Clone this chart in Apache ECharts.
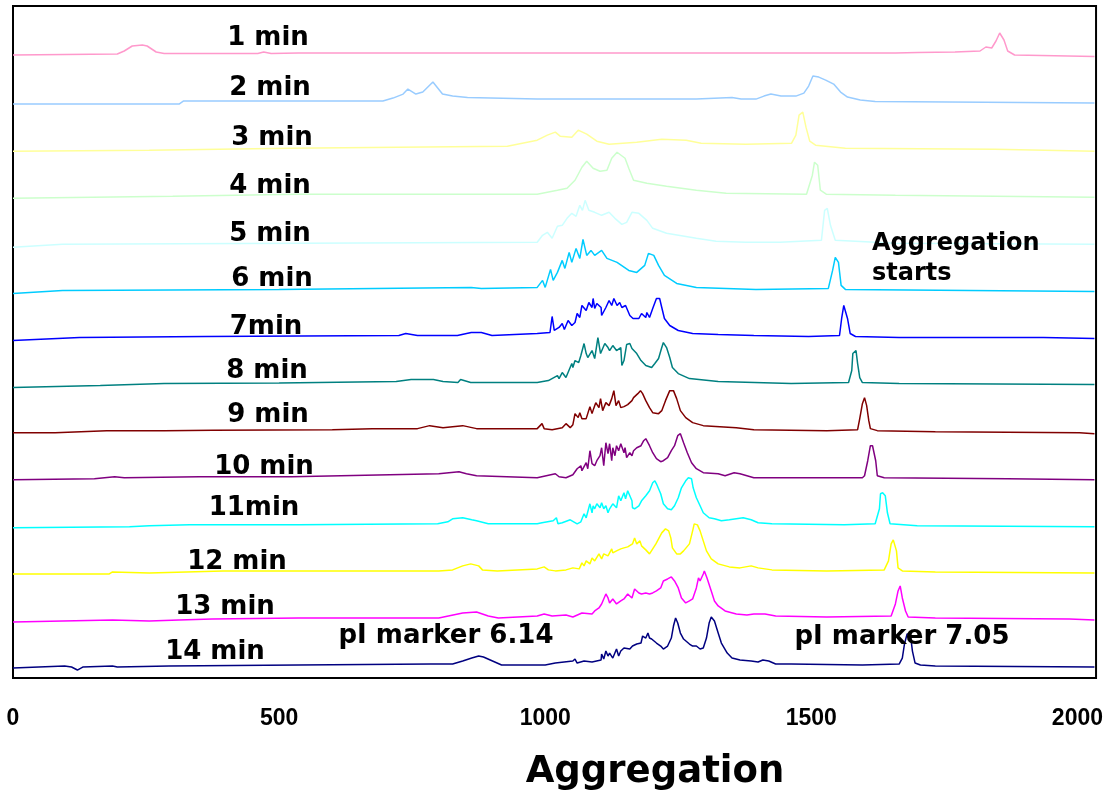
<!DOCTYPE html>
<html>
<head>
<meta charset="utf-8">
<script src="https://cdn.jsdelivr.net/npm/echarts@6/dist/echarts.min.js"></script>
<style>html,body{margin:0;padding:0;background:#fff;}#chart{width:1106px;height:794px;}</style>
</head>
<body>
<div id="chart"></div>
<script>
// ---- data: [aggregation (x), signal height] per time point ----
const traceLabels = ['1 min','2 min','3 min','4 min','5 min','6 min','7min','8 min','9 min','10 min','11min','12 min','13 min','14 min'];
const xTicks = [0, 500, 1000, 1500, 2000];
const xTitle = 'Aggregation';
const annotations = ['pI marker 6.14', 'pI marker 7.05', 'Aggregation\nstarts'];

const trace01 = [[0,0],[196,1],[209,4],[224,9],[243,10],[252,9],[269,3],[284,1.5],[460,1.5],[471,3],[485,1.5],[536,2],[1658,2],[1700,2.5],[1770,3],[1817,4],[1828,8],[1839,7],[1847,14],[1854,22],[1862,15],[1869,4],[1882,0],[2032,-1.5]];
const trace02 = [[0,-2],[312,-2],[320,1],[695,1],[714,4],[733,8],[742,13],[757,8],[770,10],[789,20],[798,14],[807,8],[826,6],[854,4.5],[985,3],[1284,3],[1351,4.5],[1368,3],[1396,3],[1411,6],[1424,8],[1443,6],[1471,6],[1486,9],[1495,16],[1503,26],[1514,25],[1527,22],[1542,18],[1555,10],[1568,5],[1592,2],[1620,0.5],[2032,-1]];
const trace03 = [[0,-2],[256,-1],[518,1],[929,3],[957,6],[985,9],[1004,14],[1019,17],[1028,13],[1050,12],[1062,19],[1078,15],[1097,8],[1120,5],[1172,7],[1219,10],[1265,9],[1293,6],[1377,5],[1463,6],[1471,14],[1477,34],[1484,37],[1490,22],[1497,8],[1508,4],[1564,1],[1845,0],[2032,-2]];
const trace04 = [[0,-2],[300,0],[536,2],[985,2],[1023,6],[1041,8],[1056,16],[1069,29],[1078,35],[1090,28],[1103,25],[1116,26],[1125,38],[1135,44],[1150,38],[1157,28],[1166,16],[1191,13],[1228,10],[1284,6],[1340,3],[1491,2],[1502,21],[1506,34],[1512,31],[1517,6],[1528,2],[1658,1],[2032,-1]];
const trace05 = [[0,-4],[93,-1],[985,1],[995,8],[1004,11],[1013,5],[1023,17],[1032,18],[1041,25],[1050,30],[1058,27],[1065,38],[1070,33],[1075,43],[1082,33],[1093,31],[1106,28],[1120,31],[1131,25],[1144,19],[1153,21],[1163,31],[1176,30],[1191,23],[1202,15],[1228,10],[1284,5],[1321,2],[1377,1],[1441,1],[1519,3],[1525,33],[1530,35],[1536,18],[1545,3],[1658,0],[2032,-1]];
const trace06 = [[0,-3],[93,0],[500,1],[861,3],[880,2],[985,3],[995,10],[1000,3],[1010,21],[1015,10],[1023,18],[1032,30],[1037,22],[1045,38],[1050,28],[1058,42],[1065,32],[1071,51],[1078,35],[1086,40],[1093,35],[1106,40],[1116,32],[1135,28],[1157,20],[1172,18],[1187,25],[1194,37],[1204,35],[1213,25],[1224,15],[1247,7],[1284,3],[1396,1],[1532,2],[1540,20],[1545,33],[1551,28],[1556,5],[1564,1],[2032,-1]];
const trace07 = [[0,-3],[125,0],[361,1],[725,2],[738,4],[760,2],[835,2],[861,5],[880,5],[900,2],[985,4],[1009,5],[1013,21],[1017,7],[1026,10],[1032,14],[1036,8],[1043,17],[1050,12],[1056,15],[1060,24],[1065,20],[1069,32],[1077,27],[1082,35],[1088,30],[1090,39],[1093,29],[1097,34],[1105,30],[1106,22],[1114,30],[1120,37],[1125,32],[1129,39],[1135,32],[1140,35],[1144,30],[1151,32],[1159,22],[1165,19],[1176,19],[1181,24],[1189,20],[1191,25],[1196,20],[1202,29],[1209,39],[1215,39],[1219,30],[1224,19],[1234,12],[1250,7],[1277,4],[1325,3],[1392,2],[1495,1],[1553,2],[1557,19],[1561,32],[1564,32],[1568,19],[1573,4],[1583,1],[1665,0],[1936,0],[2032,-1]];
const trace08 = [[0,-3],[164,-1],[284,1],[500,1.5],[720,3],[748,5],[790,5],[808,3],[836,2],[841,5],[860,2],[930,2],[985,2],[1006,4],[1023,9],[1026,6],[1032,12],[1039,7],[1050,21],[1052,17],[1056,24],[1063,22],[1067,29],[1073,41],[1077,31],[1080,27],[1088,34],[1093,26],[1099,47],[1104,31],[1108,36],[1112,41],[1118,37],[1121,34],[1127,39],[1134,34],[1142,37],[1144,19],[1148,24],[1153,40],[1159,41],[1163,36],[1166,34],[1172,31],[1180,24],[1189,19],[1200,17],[1206,21],[1213,26],[1219,37],[1222,42],[1228,37],[1234,27],[1239,17],[1250,11],[1271,6],[1325,3],[1462,1],[1570,2],[1576,14],[1578,31],[1584,34],[1587,21],[1591,7],[1596,2],[1665,1],[2032,0]];
const trace09 = [[0,-1],[79,-1],[176,1],[284,1],[376,1.5],[600,2],[675,3],[760,3],[783,6],[808,4],[826,5],[845,6],[871,3],[985,3],[994,8],[998,3],[1013,2],[1032,4],[1039,8],[1047,4],[1052,7],[1056,18],[1062,14],[1065,19],[1069,13],[1077,13],[1084,25],[1088,18],[1091,23],[1095,29],[1101,24],[1104,33],[1108,21],[1114,29],[1120,26],[1125,33],[1129,41],[1133,26],[1138,31],[1142,24],[1148,25],[1155,27],[1163,31],[1166,34],[1174,38],[1179,41],[1183,38],[1189,31],[1196,24],[1202,19],[1213,18],[1219,21],[1226,31],[1234,41],[1237,43],[1241,41],[1247,33],[1254,21],[1264,14],[1277,9],[1297,6],[1359,4],[1392,2],[1529,1],[1587,2],[1591,13],[1596,28],[1600,34],[1604,26],[1608,11],[1611,3],[1624,1],[1733,0],[2004,-1],[2032,-2]];
const trace10 = [[0,-1],[153,0],[191,2],[209,1],[350,2],[524,2],[800,5],[838,7],[852,5],[871,3],[985,1],[1019,5],[1026,2],[1039,1],[1052,4],[1060,10],[1067,13],[1069,8],[1077,16],[1080,10],[1084,28],[1088,15],[1093,13],[1097,18],[1103,23],[1106,31],[1110,13],[1114,36],[1118,25],[1121,35],[1125,18],[1127,31],[1131,23],[1134,33],[1138,28],[1142,35],[1148,26],[1150,31],[1153,21],[1159,26],[1163,23],[1166,28],[1172,31],[1180,33],[1185,38],[1189,40],[1193,36],[1196,33],[1202,26],[1209,20],[1217,17],[1222,18],[1230,21],[1237,28],[1243,33],[1249,43],[1254,45],[1256,42],[1260,36],[1267,26],[1275,16],[1284,10],[1297,6],[1325,5],[1338,3],[1355,6],[1366,5],[1392,1],[1596,1],[1600,3],[1606,18],[1611,33],[1615,33],[1621,18],[1624,3],[1637,1],[1869,0],[2032,-1]];
const trace11 = [[0,-2],[219,-1],[256,0],[332,1],[536,1],[798,2],[817,4],[826,7],[845,8],[862,6],[871,5],[893,2],[985,2],[994,3],[1015,5],[1021,8],[1024,2],[1032,3],[1047,6],[1060,2],[1067,4],[1073,12],[1077,8],[1084,22],[1088,13],[1090,20],[1093,17],[1097,22],[1103,18],[1106,23],[1110,17],[1114,20],[1118,13],[1121,17],[1127,22],[1134,18],[1138,30],[1142,25],[1148,33],[1151,27],[1155,35],[1159,30],[1163,25],[1164,18],[1168,17],[1176,20],[1181,25],[1189,30],[1196,35],[1202,43],[1206,45],[1209,42],[1217,32],[1222,22],[1230,17],[1237,16],[1243,20],[1250,28],[1256,38],[1264,45],[1269,48],[1275,47],[1278,38],[1284,28],[1291,20],[1297,13],[1308,8],[1318,7],[1331,5],[1346,6],[1372,8],[1387,6],[1400,3],[1426,2],[1562,1],[1620,2],[1628,17],[1630,32],[1634,33],[1639,30],[1643,13],[1648,2],[1699,0],[2032,-1]];
const trace12 = [[0,-1],[181,-1],[187,1],[256,0],[395,2],[800,2],[826,3],[845,7],[860,9],[875,7],[882,3],[910,2],[985,4],[998,6],[1006,3],[1019,2],[1039,3],[1052,5],[1064,4],[1069,10],[1073,7],[1077,12],[1084,9],[1088,15],[1093,12],[1101,19],[1106,14],[1110,19],[1118,17],[1125,24],[1127,20],[1134,22],[1142,24],[1148,25],[1155,26],[1164,29],[1168,35],[1172,29],[1178,32],[1181,27],[1189,23],[1196,19],[1202,24],[1208,29],[1213,34],[1219,40],[1226,44],[1232,42],[1236,35],[1239,25],[1247,19],[1254,19],[1260,22],[1271,29],[1277,42],[1280,49],[1286,48],[1291,42],[1297,32],[1303,22],[1312,14],[1325,9],[1346,6],[1366,5],[1387,7],[1400,5],[1426,3],[1529,2],[1637,3],[1645,12],[1650,29],[1654,33],[1660,22],[1663,5],[1671,2],[1733,1],[2032,0]];
const trace13 = [[0,-2],[187,0],[256,-1],[312,0],[374,1],[536,2],[800,2],[845,7],[871,8],[893,4],[912,2],[985,4],[998,6],[1013,4],[1039,5],[1052,3],[1069,7],[1088,6],[1093,9],[1101,12],[1106,16],[1114,26],[1118,22],[1121,17],[1127,21],[1134,16],[1142,19],[1148,21],[1155,26],[1163,22],[1168,31],[1176,27],[1181,26],[1189,27],[1196,26],[1202,27],[1209,29],[1217,32],[1222,39],[1230,41],[1237,43],[1243,39],[1250,32],[1256,22],[1264,17],[1271,19],[1277,21],[1284,32],[1288,42],[1291,39],[1297,46],[1299,49],[1304,42],[1312,29],[1318,19],[1325,14],[1338,9],[1359,6],[1379,5],[1392,6],[1413,6],[1433,4],[1529,3],[1650,4],[1658,16],[1663,29],[1667,34],[1671,22],[1677,9],[1682,3],[1733,2],[1985,1],[2032,0]];
const trace14 = [[0,-1],[97,1],[110,0],[121,-3],[131,0],[187,1],[196,0],[293,1],[536,2],[785,3],[826,3],[845,6],[862,9],[875,11],[884,10],[901,6],[918,2],[1000,2],[1019,4],[1052,6],[1056,8],[1060,4],[1073,6],[1088,5],[1105,7],[1106,13],[1110,8],[1114,16],[1118,11],[1121,14],[1127,9],[1134,18],[1138,11],[1142,16],[1148,19],[1151,18],[1159,18],[1164,21],[1172,23],[1180,24],[1183,31],[1189,29],[1193,34],[1196,29],[1200,28],[1202,26],[1209,24],[1217,21],[1222,18],[1230,21],[1237,29],[1241,41],[1245,49],[1249,44],[1254,34],[1260,28],[1271,23],[1277,21],[1284,21],[1291,18],[1297,19],[1303,29],[1308,44],[1312,50],[1318,46],[1325,34],[1331,24],[1342,14],[1351,9],[1366,7],[1387,6],[1400,5],[1409,7],[1420,6],[1433,3],[1462,3],[1596,2],[1665,3],[1671,9],[1675,23],[1680,33],[1686,33],[1690,16],[1695,4],[1705,2],[1733,1],[2032,0]];

const traces = [trace01,trace02,trace03,trace04,trace05,trace06,trace07,trace08,trace09,trace10,trace11,trace12,trace13,trace14];

// ---- layout / style ----
const colors = ['#FF99CC','#99CCFF','#FFFF99','#CCFFCC','#CCFFFF','#00CCFF','#0000FF','#008080','#800000','#800080','#00FFFF','#FFFF00','#FF00FF','#000080'];
const TOP_BASE = 623, STEP = 47.08; // vertical offset of the stacked traces (axis units)
const labelPos = [[268,38],[270,88],[272,138],[270,186],[270,234],[272,279],[266,327],[267,371],[268,415],[264,467],[254,508],[237,562],[225,607],[215,652]];
const annPos = [[446,636],[902,637],[872,259]];
const titlePos = [655, 772];
const LABEL_FONT = 'bold 26px "DejaVu Sans"';

const chart = echarts.init(document.getElementById('chart'), null, {renderer:'canvas'});

const series = traces.map((d, i) => ({
  type: 'line',
  name: traceLabels[i],
  data: d.map(p => [p[0], TOP_BASE - STEP * i + p[1]]),
  showSymbol: false,
  symbol: 'none',
  silent: true,
  animation: false,
  lineStyle: { color: colors[i], width: 1.5 },
  z: 2
}));

function txt(t, x, y, font, align, lh) {
  return { type: 'text', z: 10, x: x, y: y,
    style: { text: t, font: font, fill: '#000', lineHeight: lh || undefined,
      align: align, textAlign: align, verticalAlign: 'middle', textVerticalAlign: 'middle' } };
}
const graphics = traceLabels.map((t, i) => txt(t, labelPos[i][0], labelPos[i][1], LABEL_FONT, 'center'));
graphics.push(txt(annotations[0], annPos[0][0], annPos[0][1], LABEL_FONT, 'center'));
graphics.push(txt(annotations[1], annPos[1][0], annPos[1][1], LABEL_FONT, 'center'));
graphics.push(txt(annotations[2], annPos[2][0], annPos[2][1], 'bold 24px "DejaVu Sans"', 'left', 30));
graphics.push(txt(xTitle, titlePos[0], titlePos[1], 'bold 37px "DejaVu Sans"', 'center'));

chart.setOption({
  animation: false,
  backgroundColor: '#fff',
  grid: { left: 13, top: 6, right: 6, bottom: 116, show: true, borderColor: '#000', borderWidth: 2, backgroundColor: 'transparent', containLabel: false },
  xAxis: {
    type: 'value', min: xTicks[0], max: 2035, interval: xTicks[1] - xTicks[0],
    axisLine: { show: false }, axisTick: { show: false }, splitLine: { show: false },
    axisLabel: { showMaxLabel: false, margin: 29, color: '#000', fontFamily: 'Liberation Sans', fontWeight: 'bold', fontSize: 23,
      formatter: v => String(v) }
  },
  yAxis: { type: 'value', min: 0, max: 672, show: false, splitLine: { show: false } },
  series: series,
  graphic: graphics
});
</script>
</body>
</html>
